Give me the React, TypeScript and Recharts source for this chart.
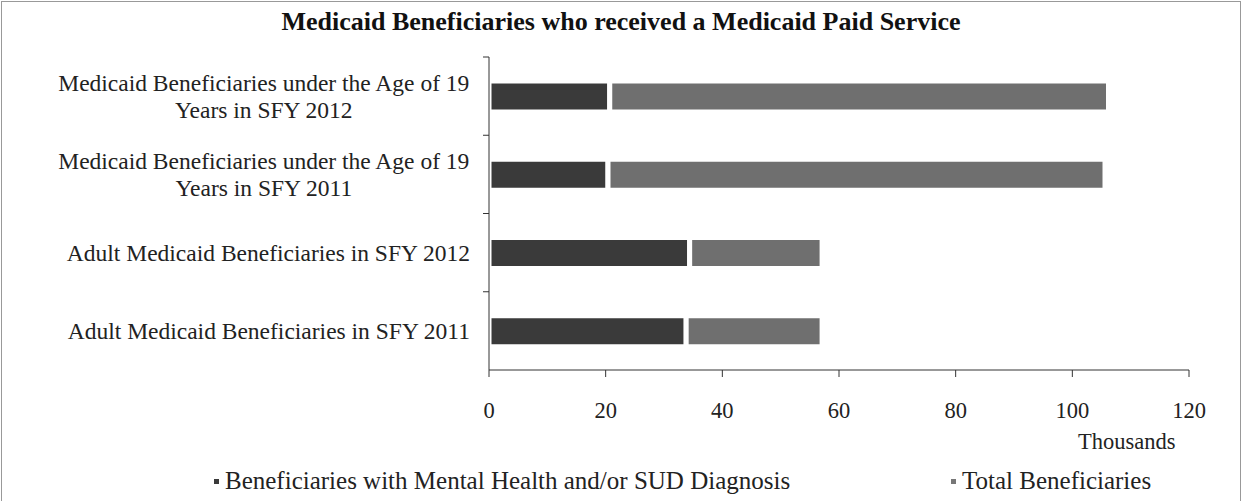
import { BarChart, Bar, XAxis, YAxis } from 'recharts';

const categories = [
  'Medicaid Beneficiaries under the Age of 19|Years in SFY 2012',
  'Medicaid Beneficiaries under the Age of 19|Years in SFY 2011',
  'Adult Medicaid Beneficiaries in SFY 2012',
  'Adult Medicaid Beneficiaries in SFY 2011',
];
const mentalHealth = [20.7, 20.4, 34.4, 33.8];
const totalBeneficiaries = [85.5, 85.2, 22.7, 23.3];
const xTicks = [0, 20, 40, 60, 80, 100, 120];

const seriesNames = {
  mh: 'Beneficiaries with Mental Health and/or SUD Diagnosis',
  total: 'Total Beneficiaries',
};

const data = categories.map((name, i) => ({
  name,
  mh: mentalHealth[i],
  total: totalBeneficiaries[i],
}));

const FONT = '"Liberation Serif", "Times New Roman", serif';

let ctx: CanvasRenderingContext2D | null = null;
function textWidth(s: string, size: number) {
  if (!ctx) ctx = document.createElement('canvas').getContext('2d');
  if (!ctx) return s.length * size * 0.45;
  ctx.font = `${size}px ${FONT}`;
  return ctx.measureText(s).width;
}

const BAND = 313 / categories.length;

function CategoryTick(props: any) {
  const { x, y, payload } = props;
  const lines: string[] = String(payload.value).split('|');
  const size = 23.5;
  const lh = 27;
  const axisX = x + 8;
  const right = axisX - 19;
  const widest = Math.max(...lines.map((l) => textWidth(l, size)));
  const cx = right - widest / 2;
  const startY = y - ((lines.length - 1) * lh) / 2;
  return (
    <g>
      <line x1={axisX - 6} x2={axisX} y1={y - BAND / 2} y2={y - BAND / 2} stroke="#333" />
      <text
        fontFamily={FONT}
        fontSize={size}
        fill="#222"
        textAnchor={lines.length > 1 ? 'middle' : 'end'}
        dominantBaseline="central"
      >
        {lines.map((l, i) => (
          <tspan key={i} x={lines.length > 1 ? cx : right} y={startY + i * lh}>
            {l}
          </tspan>
        ))}
      </text>
    </g>
  );
}

function Legend() {
  const item = (label: string, color: string, left: number) => (
    <div style={{ position: 'absolute', left, top: 466, display: 'flex', alignItems: 'center' }}>
      <span style={{ width: 5, height: 5, background: color, display: 'inline-block', marginRight: 6 }} />
      <span style={{ fontFamily: FONT, fontSize: 25, color: '#222', lineHeight: '30px' }}>{label}</span>
    </div>
  );
  return (
    <>
      {item(seriesNames.mh, '#3a3a3a', 214)}
      {item(seriesNames.total, '#777', 951)}
    </>
  );
}

export default function App() {
  return (
    <div
      style={{
        position: 'absolute',
        left: 0,
        top: 0,
        width: 1242,
        height: 501,
        background: '#fff',
        overflow: 'hidden',
      }}
    >
      <div
        style={{
          position: 'absolute',
          left: 1,
          top: 1,
          width: 1238,
          height: 520,
          border: '1px solid #999',
        }}
      />
      <div
        style={{
          position: 'absolute',
          top: 6,
          width: 1242,
          textAlign: 'center',
          fontFamily: FONT,
          fontWeight: 'bold',
          fontSize: 26,
          lineHeight: '32px',
          color: '#111',
        }}
      >
        Medicaid Beneficiaries who received a Medicaid Paid Service
      </div>
      <BarChart
        width={1242}
        height={501}
        data={data}
        layout="vertical"
        margin={{ top: 57, right: 53, left: 0, bottom: 101 }}
        barCategoryGap={0}
        style={{ position: 'absolute', left: 0, top: 0 }}
      >
        <XAxis
          type="number"
          domain={[0, 120]}
          ticks={xTicks}
          interval={0}
          axisLine={{ stroke: '#333' }}
          tickLine={{ stroke: '#333' }}
          tickSize={7}
          tickMargin={25}
          tick={{ fontFamily: FONT, fontSize: 22.5, fill: '#222' }}
        />
        <YAxis
          type="category"
          dataKey="name"
          width={489}
          axisLine={{ stroke: '#333' }}
          tickLine={false}
          tick={<CategoryTick />}
          interval={0}
        />
        <Bar dataKey="mh" stackId="a" fill="#3a3a3a" stroke="#fff" strokeWidth={5} barSize={31} isAnimationActive={false} />
        <Bar dataKey="total" stackId="a" fill="#6f6f6f" stroke="#fff" strokeWidth={5} barSize={31} isAnimationActive={false} />
      </BarChart>
      <div
        style={{
          position: 'absolute',
          left: 1078,
          top: 428,
          fontFamily: FONT,
          fontSize: 22.5,
          lineHeight: '28px',
          color: '#222',
        }}
      >
        Thousands
      </div>
      <Legend />
    </div>
  );
}
